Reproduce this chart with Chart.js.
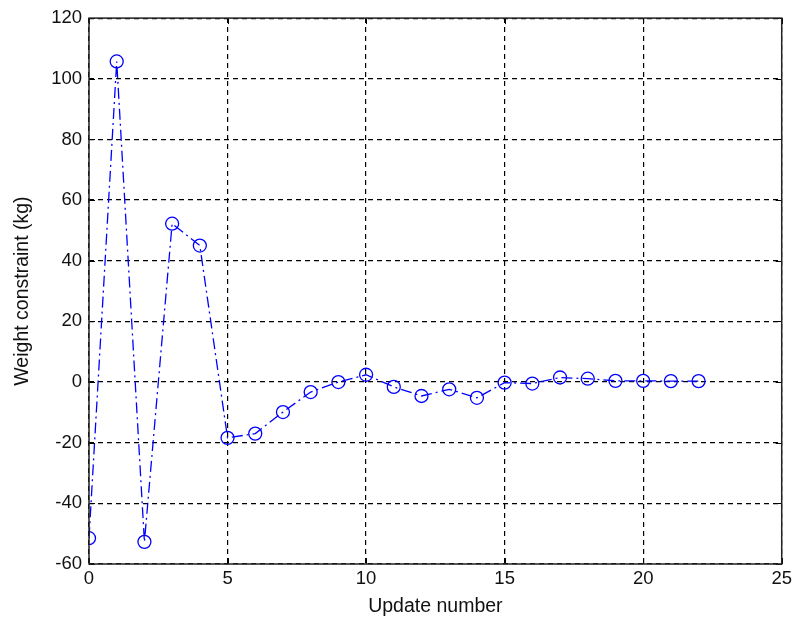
<!DOCTYPE html>
<html>
<head>
<meta charset="utf-8">
<script src="https://cdn.jsdelivr.net/npm/chart.js@4"></script>
<style>
  html, body { margin: 0; padding: 0; background: #fff; }
  #wrap { width: 796px; height: 623px; position: relative; }
</style>
</head>
<body>
<div id="wrap"><canvas id="c" width="796" height="623"></canvas></div>
<script>
// Update index and the weight constraint value after each update
const updateNumbers = [0, 1, 2, 3, 4, 5, 6, 7, 8, 9, 10, 11, 12, 13, 14, 15, 16, 17, 18, 19, 20, 21, 22];
const weightConstraint = [-51.5, 105.7, -52.7, 52.2, 45.0, -18.4, -17.0, -9.9, -3.3, 0.0, 2.4, -1.6, -4.6, -2.4, -5.2, -0.2, -0.5, 1.5, 1.1, 0.4, 0.4, 0.3, 0.3];
const xTicks = [0, 5, 10, 15, 20, 25];
const yTicks = [-60, -40, -20, 0, 20, 40, 60, 80, 100, 120];

const FONT = 'Liberation Sans, Arial, sans-serif';

const points = updateNumbers.map((x, i) => ({ x: x, y: weightConstraint[i] }));

// Box around the plot and inward tick marks on all four sides
const frame = {
  id: 'frame',
  afterDraw(chart) {
    const { ctx, chartArea: a, scales } = chart;
    ctx.save();
    ctx.strokeStyle = '#000';
    ctx.lineWidth = 1;
    ctx.setLineDash([]);
    ctx.beginPath();
    const L = 6;
    xTicks.forEach(v => {
      const px = Math.round(scales.x.getPixelForValue(v)) + 0.5;
      ctx.moveTo(px, a.bottom); ctx.lineTo(px, a.bottom - L);
      ctx.moveTo(px, a.top); ctx.lineTo(px, a.top + L);
    });
    yTicks.forEach(v => {
      const py = Math.round(scales.y.getPixelForValue(v)) + 0.5;
      ctx.moveTo(a.left, py); ctx.lineTo(a.left + L, py);
      ctx.moveTo(a.right, py); ctx.lineTo(a.right - L, py);
    });
    ctx.stroke();
    ctx.strokeStyle = '#222';
    ctx.lineWidth = 1.5;
    ctx.strokeRect(a.left, a.top, a.right - a.left, a.bottom - a.top);
    ctx.restore();
  }
};

new Chart(document.getElementById('c'), {
  type: 'line',
  data: {
    datasets: [{
      data: points,
      borderColor: '#0000ff',
      borderWidth: 1.3,
      borderDash: [11, 4, 2, 4],
      pointStyle: 'circle',
      pointRadius: 6.5,
      pointBorderWidth: 1.3,
      pointBorderColor: '#0000ff',
      pointBackgroundColor: 'rgba(0,0,0,0)',
      fill: false,
      tension: 0
    }]
  },
  options: {
    responsive: false,
    animation: false,
    devicePixelRatio: 1,
    layout: { padding: { top: 16, right: 12, left: 0, bottom: 0 } },
    plugins: { legend: { display: false }, tooltip: { enabled: false } },
    scales: {
      x: {
        type: 'linear',
        min: 0, max: 25,
        afterBuildTicks(s) { s.ticks = xTicks.map(v => ({ value: v })); },
        afterFit(s) { s.height = 59; },
        grid: {
          color: '#000',
          lineWidth: 1.2,
          drawTicks: false,
          tickLength: 0
        },
        border: { display: false, dash: [5, 4] },
        ticks: {
          color: '#111',
          font: { family: FONT, size: 18.5 },
          padding: 4,
          maxRotation: 0
        },
        title: {
          display: true,
          text: 'Update number',
          color: '#111',
          font: { family: FONT, size: 19.5 },
          padding: { top: 0, bottom: 5 }
        }
      },
      y: {
        type: 'linear',
        min: -60, max: 120,
        afterBuildTicks(s) { s.ticks = yTicks.map(v => ({ value: v })); },
        afterFit(s) { s.width = 89; },
        grid: {
          color: '#000',
          lineWidth: 1.2,
          drawTicks: false,
          tickLength: 0
        },
        border: { display: false, dash: [5, 4] },
        ticks: {
          color: '#111',
          font: { family: FONT, size: 18.5 },
          padding: 7
        },
        title: {
          display: true,
          text: 'Weight constraint (kg)',
          color: '#111',
          font: { family: FONT, size: 19.5 },
          padding: { top: 11, bottom: 4 }
        }
      }
    }
  },
  plugins: [frame]
});
</script>
</body>
</html>
